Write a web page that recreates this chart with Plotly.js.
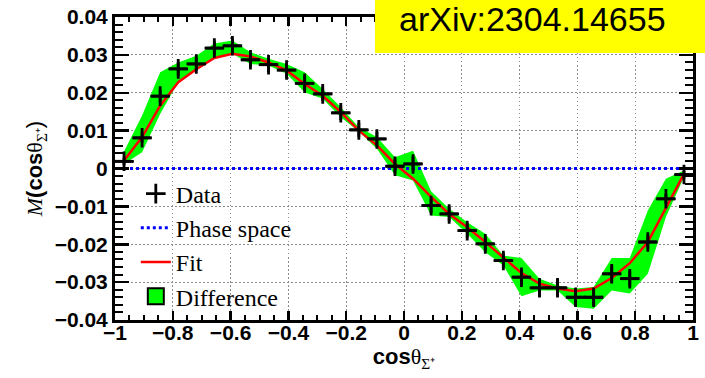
<!DOCTYPE html>
<html>
<head>
<meta charset="utf-8">
<script src="https://cdn.plot.ly/plotly-3.0.1.min.js"></script>
<style>html,body{margin:0;padding:0;background:#fff;}#chart{width:705px;height:378px;}</style>
</head>
<body>
<div id="chart"></div>
<script>
// bin centres of cos(theta_Sigma+)
const binCenters = [-0.96875, -0.90625, -0.84375, -0.78125, -0.71875, -0.65625, -0.59375, -0.53125,
  -0.46875, -0.40625, -0.34375, -0.28125, -0.21875, -0.15625, -0.09375, -0.03125,
  0.03125, 0.09375, 0.15625, 0.21875, 0.28125, 0.34375, 0.40625, 0.46875,
  0.53125, 0.59375, 0.65625, 0.71875, 0.78125, 0.84375, 0.90625, 0.96875];
const binHalfWidth = 0.03125;

const dataValues = [0.0019, 0.0081, 0.0191, 0.0263, 0.0276, 0.0318, 0.0324, 0.0287,
  0.0274, 0.0260, 0.0225, 0.0197, 0.0147, 0.0102, 0.0078, 0.0006,
  0.0012, -0.0098, -0.0120, -0.0164, -0.0199, -0.0243, -0.0287, -0.0315,
  -0.0315, -0.0340, -0.0340, -0.0278, -0.0291, -0.0194, -0.0080, -0.0016];
const dataErrors = [0.0010, 0.0013, 0.0016, 0.0018, 0.0018, 0.0019, 0.0019, 0.0019,
  0.0019, 0.0019, 0.0019, 0.0019, 0.0019, 0.0019, 0.0019, 0.0019,
  0.0019, 0.0019, 0.0019, 0.0019, 0.0019, 0.0020, 0.0022, 0.0023,
  0.0023, 0.0023, 0.0023, 0.0022, 0.0020, 0.0018, 0.0013, 0.0010];
const phaseSpaceValues = [0, 0, 0, 0, 0, 0, 0, 0, 0, 0, 0, 0, 0, 0, 0, 0,
  0, 0, 0, 0, 0, 0, 0, 0, 0, 0, 0, 0, 0, 0, 0, 0];
const fitValues = [0.0021, 0.0083, 0.0166, 0.0228, 0.0262, 0.0292, 0.0303, 0.0296,
  0.0280, 0.0259, 0.0223, 0.0192, 0.0149, 0.0100, 0.0061, 0.0012,
  -0.0027, -0.0075, -0.0120, -0.0155, -0.0194, -0.0234, -0.0276, -0.0304,
  -0.0317, -0.0324, -0.0317, -0.0289, -0.0250, -0.0194, -0.0102, -0.0014];
const differenceUpper = [0.0045, 0.0140, 0.0254, 0.0280, 0.0298, 0.0330, 0.0338, 0.0307,
  0.0290, 0.0276, 0.0254, 0.0210, 0.0162, 0.0109, 0.0083, 0.0030,
  0.0047, -0.0060, -0.0106, -0.0142, -0.0172, -0.0230, -0.0236, -0.0291,
  -0.0309, -0.0317, -0.0313, -0.0236, -0.0236, -0.0111, -0.0027, -0.0005];
const differenceLower = [0.0012, 0.0043, 0.0144, 0.0228, 0.0263, 0.0292, 0.0303, 0.0276,
  0.0272, 0.0250, 0.0201, 0.0184, 0.0135, 0.0098, 0.0052, -0.0018,
  -0.0032, -0.0124, -0.0128, -0.0172, -0.0221, -0.0256, -0.0337, -0.0322,
  -0.0322, -0.0366, -0.0370, -0.0322, -0.0330, -0.0278, -0.0128, -0.0023];

const serif = 'Liberation Serif, Times New Roman, serif';
const sans = 'Liberation Sans, Arial, Helvetica, sans-serif';

const bandX = binCenters.concat(binCenters.slice().reverse());
const bandY = differenceUpper.concat(differenceLower.slice().reverse());

const traces = [
  {
    type: 'scatter', mode: 'lines', x: bandX, y: bandY,
    fill: 'toself', fillcolor: '#00ff00', line: {width: 0, color: '#00ff00'},
    showlegend: false, legendgroup: 'diff', hoverinfo: 'skip'
  },
  {
    type: 'scatter', mode: 'lines', name: 'Phase space', x: binCenters, y: phaseSpaceValues,
    line: {color: '#0000ff', width: 3, dash: 'dot'}, legendrank: 2
  },
  {
    type: 'scatter', mode: 'lines', name: 'Fit', x: binCenters, y: fitValues,
    line: {color: '#ff0000', width: 2.5}, legendrank: 3
  },
  {
    type: 'scatter', mode: 'markers', name: 'Data', x: binCenters, y: dataValues,
    marker: {symbol: 'cross-thin', size: 14, color: '#000', line: {color: '#000', width: 2.8}},
    error_x: {type: 'constant', value: binHalfWidth, width: 0, thickness: 2.8, color: '#000'},
    error_y: {type: 'data', array: dataErrors, width: 0, thickness: 2.8, color: '#000'},
    legendrank: 1
  },
  {
    type: 'scatter', mode: 'markers', name: 'Difference', x: [null], y: [null],
    marker: {symbol: 'square', size: 16, color: '#00ff00', line: {color: '#000', width: 2}},
    legendgroup: 'diff', legendrank: 4
  }
];

const layout = {
  width: 705, height: 378,
  margin: {l: 115, r: 12, t: 17, b: 58},
  paper_bgcolor: '#fff', plot_bgcolor: '#fff',
  showlegend: true,
  legend: {
    x: 0.036, y: 0.49, xanchor: 'left', yanchor: 'top',
    bgcolor: 'rgba(0,0,0,0)', borderwidth: 0,
    font: {family: serif, size: 24, color: '#000'},
    tracegroupgap: 0, itemwidth: 30
  },
  xaxis: {
    range: [-1, 1], dtick: 0.2, tick0: 0,
    showline: true, linewidth: 3, linecolor: '#000', mirror: 'allticks',
    ticks: 'inside', ticklen: 9, tickwidth: 2.5, tickcolor: '#000',
    minor: {dtick: 0.05, ticks: 'inside', ticklen: 5, tickwidth: 2, tickcolor: '#000', showgrid: false},
    showgrid: true, gridcolor: '#8c8c8c', gridwidth: 1, griddash: '1.5px,2.5px',
    zeroline: false, ticklabelstandoff: -8,
    tickfont: {family: sans, size: 21, color: '#000', weight: 'bold'},
    title: {
      text: '<b>cos</b><span style="font-family:Liberation Serif">θ<sub>Σ⁺</sub></span>',
      font: {family: sans, size: 22, color: '#000'}, standoff: 0
    }
  },
  yaxis: {
    range: [-0.04, 0.04], dtick: 0.01, tick0: 0,
    showline: true, linewidth: 3, linecolor: '#000', mirror: 'allticks',
    ticks: 'inside', ticklen: 14, tickwidth: 2.5, tickcolor: '#000',
    minor: {dtick: 0.002, ticks: 'inside', ticklen: 8, tickwidth: 2, tickcolor: '#000', showgrid: false},
    showgrid: true, gridcolor: '#8c8c8c', gridwidth: 1, griddash: '1.5px,2.5px',
    zeroline: false,
    tickfont: {family: sans, size: 21, color: '#000', weight: 'bold'},
    title: {
      text: '<span style="font-family:Liberation Serif"><i>M</i></span><b>(cos</b><span style="font-family:Liberation Serif">θ<sub>Σ⁺</sub></span>)',
      font: {family: sans, size: 22, color: '#000'}, standoff: 6
    }
  },
  shapes: [
    {type: 'rect', xref: 'paper', yref: 'paper', x0: 0.4498, x1: 1.04, y0: 0.881, y1: 1.08,
     fillcolor: '#ffff00', line: {width: 0}, layer: 'above'}
  ],
  annotations: [
    {xref: 'paper', yref: 'paper', x: 0.7223, y: 0.995, xanchor: 'center', yanchor: 'middle',
     text: 'arXiv:2304.14655', showarrow: false,
     font: {family: sans, size: 34, color: '#000'}}
  ]
};

Plotly.newPlot('chart', traces, layout, {displayModeBar: false, staticPlot: true});
</script>
</body>
</html>
